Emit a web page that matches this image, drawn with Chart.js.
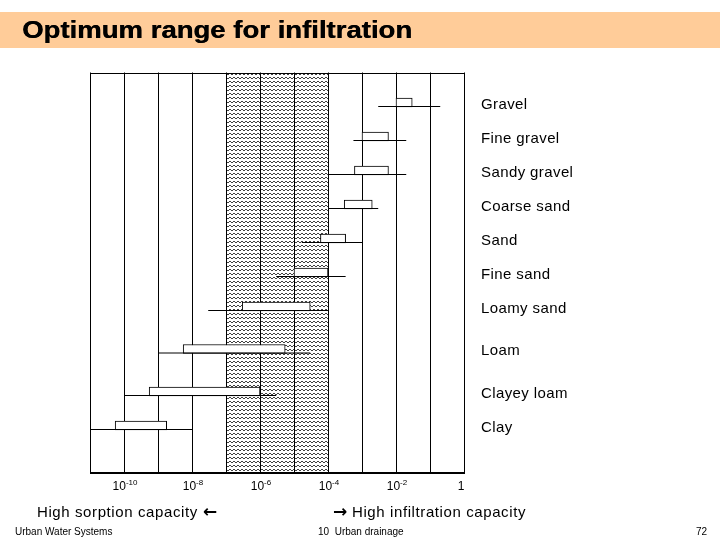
<!DOCTYPE html>
<html>
<head>
<meta charset="utf-8">
<script src="https://cdn.jsdelivr.net/npm/chart.js@4.4.1/dist/chart.umd.min.js"></script>
<style>
  html, body { margin: 0; padding: 0; background: #fff; }
  #wrap { width: 720px; height: 540px; position: relative; }
</style>
</head>
<body>
<div id="wrap"><canvas id="infChart" width="720" height="540"></canvas></div>
<script>
// hydraulic conductivity, m/s
var soils     = ['Gravel', 'Fine gravel', 'Sandy gravel', 'Coarse sand', 'Sand', 'Fine sand', 'Loamy sand', 'Loam', 'Clayey loam', 'Clay'];
var rowPos    = [1, 2, 3, 4, 5, 6, 7, 8.25, 9.5, 10.5];
var boxLow    = [1e-2, 1e-3, 6e-4, 3e-4, 6e-5, 1e-5, 3e-7, 5.5e-9, 5.5e-10, 5.5e-11];
var boxHigh   = [3e-2, 6e-3, 6e-3, 2e-3, 3.3e-4, 1e-4, 3e-5, 5.5e-6, 1e-6, 1.8e-9];
var rangeLow  = [3e-3, 5.6e-4, 1e-4, 1e-4, 1.7e-5, 3e-6, 3e-8, 1e-9, 1e-10, 1e-11];
var rangeHigh = [2e-1, 2e-2, 2e-2, 3e-3, 1e-3, 3.3e-4, 1e-4, 3e-5, 3e-6, 1e-8];
var optimumRange  = [1e-7, 1e-4];
var gridExponents = [-11, -10, -9, -8, -7, -6, -5, -4, -3, -2, -1, 0];
var tickExponents = [-10, -8, -6, -4, -2, 0];

var pxPerRow = 34;
var boxLift = 4 / pxPerRow;

function makeHatch() {
    var c = document.createElement('canvas');
    c.width = 4; c.height = 4;
    var p = c.getContext('2d');
    p.strokeStyle = '#000';
    p.lineWidth = 0.75;
    p.beginPath();
    p.moveTo(-2, 1); p.lineTo(0, 3); p.lineTo(2, 1); p.lineTo(4, 3); p.lineTo(6, 1);
    p.stroke();
    return c;
}

var decoPlugin = {
    id: 'deco',
    beforeDraw: function(chart) {
        var ctx = chart.ctx, area = chart.chartArea, x = chart.scales.x;
        ctx.save();
        ctx.fillStyle = '#fff';
        ctx.fillRect(0, 0, chart.width, chart.height);

        // title band
        ctx.fillStyle = '#FFCC99';
        ctx.fillRect(0, 12, 720, 36);
        ctx.fillStyle = '#000';
        ctx.font = 'bold 24px "Liberation Sans", Arial, sans-serif';
        var title = 'Optimum range for infiltration';
        var w = ctx.measureText(title).width;
        ctx.translate(22, 38);
        ctx.scale(390 / w, 1);
        ctx.fillText(title, 0, 0);
        ctx.fillText(title, 0.4, 0);
        ctx.setTransform(1, 0, 0, 1, 0, 0);

        // optimum band
        var x0 = x.getPixelForValue(optimumRange[0]);
        var x1 = x.getPixelForValue(optimumRange[1]);
        ctx.fillStyle = ctx.createPattern(makeHatch(), 'repeat');
        ctx.fillRect(x0, area.top, x1 - x0, area.bottom - area.top);
        ctx.restore();
    },
    afterDraw: function(chart) {
        var ctx = chart.ctx, area = chart.chartArea, x = chart.scales.x, y = chart.scales.y;
        ctx.save();
        ctx.strokeStyle = '#000';
        ctx.lineWidth = 1;
        ctx.strokeRect(Math.round(area.left) + 0.5, Math.round(area.top) + 0.5,
            Math.round(area.right - area.left), Math.round(area.bottom - area.top));

        ctx.fillStyle = '#000';
        ctx.textBaseline = 'alphabetic';

        // tick labels 10^n
        tickExponents.forEach(function(e) {
            var px = x.getPixelForValue(Math.pow(10, e));
            if (e === 0) {
                ctx.font = '12px "Liberation Sans", Arial, sans-serif';
                ctx.textAlign = 'center';
                ctx.fillText('1', px - 3, 490);
                return;
            }
            ctx.textAlign = 'left';
            ctx.font = '12px "Liberation Sans", Arial, sans-serif';
            var bw = ctx.measureText('10').width;
            ctx.font = '8px "Liberation Sans", Arial, sans-serif';
            var ew = ctx.measureText(String(e)).width;
            var start = px - (bw + ew) / 2 + 1;
            ctx.font = '12px "Liberation Sans", Arial, sans-serif';
            ctx.fillText('10', start, 490);
            ctx.font = '8px "Liberation Sans", Arial, sans-serif';
            ctx.fillText(String(e), start + bw, 485);
        });

        // soil names
        ctx.textAlign = 'left';
        ctx.font = '15px "Liberation Sans", Arial, sans-serif';
        ctx.letterSpacing = '0.4px';
        soils.forEach(function(s, i) {
            ctx.fillText(s, area.right + 17, y.getPixelForValue(rowPos[i]) + 2);
        });

        ctx.letterSpacing = '0.6px';
        ctx.fillText('High sorption capacity', 37, 517);
        ctx.fillText('High infiltration capacity', 352, 517);
        ctx.letterSpacing = '0px';
        ctx.font = 'bold 17px "DejaVu Sans", sans-serif';
        ctx.fillText('\u2190', 203, 517);
        ctx.fillText('\u2192', 333, 517);

        ctx.font = '10px "Liberation Sans", Arial, sans-serif';
        ctx.fillText('Urban Water Systems', 15, 535);
        ctx.fillText('10  Urban drainage', 318, 535);
        ctx.fillText('72', 696, 535);
        ctx.restore();
    }
};

var datasets = [{
    type: 'bar',
    indexAxis: 'y',
    data: soils.map(function(s, i) {
        return { x: [boxLow[i], boxHigh[i]], y: rowPos[i] - boxLift };
    }),
    backgroundColor: '#fff',
    borderColor: '#000',
    borderWidth: 1,
    borderSkipped: false,
    barThickness: 9,
    order: 2
}];

soils.forEach(function(s, i) {
    datasets.push({
        type: 'scatter',
        label: s,
        data: [{ x: rangeLow[i], y: rowPos[i] }, { x: rangeHigh[i], y: rowPos[i] }],
        showLine: true,
        borderColor: '#000',
        borderWidth: 1,
        pointRadius: 0,
        order: 1
    });
});

new Chart(document.getElementById('infChart'), {
    data: { datasets: datasets },
    options: {
        responsive: false,
        animation: false,
        devicePixelRatio: 1,
        layout: { padding: { left: 90, right: 256, top: 72.5, bottom: 68 } },
        scales: {
            x: {
                type: 'logarithmic',
                offset: false,
                min: Math.pow(10, gridExponents[0]),
                max: Math.pow(10, gridExponents[gridExponents.length - 1]),
                afterBuildTicks: function(scale) {
                    scale.ticks = gridExponents.map(function(e) { return { value: Math.pow(10, e) }; });
                },
                ticks: { display: false },
                grid: { color: '#000', lineWidth: 1, drawTicks: false, offset: false },
                border: { display: true, color: '#000' }
            },
            y: {
                type: 'linear',
                offset: false,
                reverse: true,
                min: 0,
                max: 399.5 / pxPerRow,
                display: false
            }
        },
        plugins: {
            legend: { display: false },
            tooltip: { enabled: false }
        }
    },
    plugins: [decoPlugin]
});
</script>
</body>
</html>
